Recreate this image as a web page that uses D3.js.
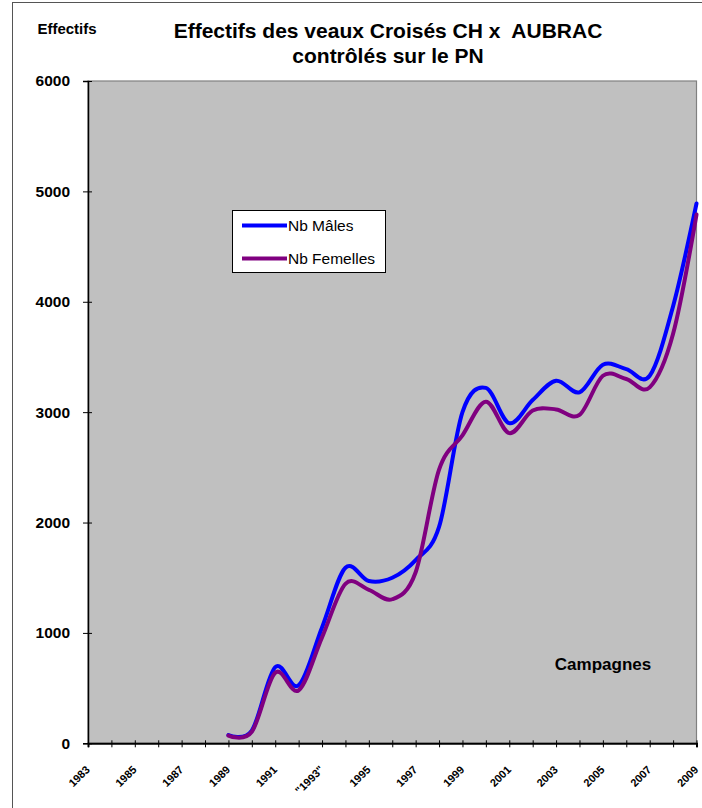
<!DOCTYPE html>
<html>
<head>
<meta charset="utf-8">
<script src="https://cdn.jsdelivr.net/npm/d3@7"></script>
<style>
  html, body { margin: 0; padding: 0; background: #fff; }
  svg { display: block; font-family: Arial, "Liberation Sans", sans-serif; }
</style>
</head>
<body>
<svg id="chart" width="702" height="808"></svg>
<script>
// ---- data ----
const years = [1983,1984,1985,1986,1987,1988,1989,1990,1991,1992,1993,1994,1995,1996,1997,1998,1999,2000,2001,2002,2003,2004,2005,2006,2007,2008,2009];
const tickLabels = ["1983","","1985","","1987","","1989","","1991","","\"1993\"","","1995","","1997","","1999","","2001","","2003","","2005","","2007","","2009"];
const males   = [null,null,null,null,null,null,75,115,690,525,1050,1590,1470,1500,1660,1960,3000,3220,2900,3110,3285,3180,3430,3390,3330,3960,4890];
const females = [null,null,null,null,null,null,70,105,640,480,960,1445,1390,1305,1550,2480,2790,3095,2810,3015,3025,2975,3330,3300,3225,3710,4790];
const yTicks = [0,1000,2000,3000,4000,5000,6000];
const seriesNames = ["Nb Mâles","Nb Femelles"];
const seriesColors = ["#0000ff","#800080"];

const svg = d3.select("#chart");
const L = 88, R = 696.5, T = 81, B = 743.3;

// outer frame
svg.append("rect").attr("x",12.5).attr("y",2.5).attr("width",720).attr("height",830)
  .attr("fill","#fff").attr("stroke","#555").attr("stroke-width",1);

const x = d3.scalePoint().domain(years).range([L, R]);
const y = d3.scaleLinear().domain([0,6000]).range([B, T]);

// plot area
svg.append("rect").attr("x",L).attr("y",T).attr("width",R-L).attr("height",B-T)
  .attr("fill","#c0c0c0").attr("stroke","#808080").attr("stroke-width",1.2);

// titles
svg.append("text").attr("x",67).attr("y",34).attr("text-anchor","middle")
  .attr("font-size",15).attr("font-weight","bold").text("Effectifs");
svg.append("text").attr("x",388).attr("y",38).attr("text-anchor","middle")
  .attr("font-size",21).attr("font-weight","bold").text("Effectifs des veaux Croisés CH x  AUBRAC")
  .attr("xml:space","preserve").style("white-space","pre");
svg.append("text").attr("x",388).attr("y",63).attr("text-anchor","middle")
  .attr("font-size",21).attr("font-weight","bold").text("contrôlés sur le PN");

// y axis
const yAxis = d3.axisLeft(y).tickValues(yTicks).tickSize(5).tickPadding(13).tickFormat(d3.format("d"));
const gy = svg.append("g").attr("transform",`translate(${L},0)`).call(yAxis);
gy.select(".domain").attr("stroke","#000").attr("stroke-width",1.5);
gy.selectAll(".tick line").attr("x1",-5).attr("x2",4).attr("stroke","#000");
gy.selectAll(".tick text").attr("font-size",15.5).attr("font-weight","bold")
  .attr("font-family","Arial, 'Liberation Sans', sans-serif").attr("fill","#000");

// x axis
const xAxis = d3.axisBottom(x).tickSize(4).tickFormat((d,i) => tickLabels[i]);
const gx = svg.append("g").attr("transform",`translate(0,${B})`).call(xAxis);
gx.select(".domain").attr("stroke","#000").attr("stroke-width",2);
gx.selectAll(".tick line").attr("y1",-3).attr("y2",4).attr("stroke","#000");
gx.selectAll(".tick text")
  .attr("font-size",11).attr("font-weight","bold").attr("fill","#000")
  .attr("font-family","Arial, 'Liberation Sans', sans-serif")
  .attr("text-anchor","end").attr("dy",null).attr("y",null)
  .attr("transform","translate(2,27) rotate(-45)");

// lines
const line = d3.line()
  .defined(d => d.v != null)
  .x(d => x(d.year)).y(d => y(d.v))
  .curve(d3.curveCardinal.tension(0));
[males, females].forEach((s, i) => {
  svg.append("path")
    .datum(years.map((yr, j) => ({year: yr, v: s[j]})))
    .attr("fill","none").attr("stroke",seriesColors[i]).attr("stroke-width",4)
    .attr("stroke-linejoin","round").attr("stroke-linecap","round")
    .attr("d", line);
});

// legend
const lg = svg.append("g");
lg.append("rect").attr("x",232.5).attr("y",210.5).attr("width",153).attr("height",62)
  .attr("fill","#fff").attr("stroke","#000").attr("stroke-width",1);
seriesNames.forEach((n, i) => {
  const ly = 225.5 + i*33;
  lg.append("line").attr("x1",242).attr("x2",287).attr("y1",ly).attr("y2",ly)
    .attr("stroke",seriesColors[i]).attr("stroke-width",4);
  lg.append("text").attr("x",288).attr("y",ly+5).attr("font-size",15.5)
    .attr("fill","#000").text(n);
});

// category axis title
svg.append("text").attr("x",603).attr("y",670).attr("text-anchor","middle")
  .attr("font-size",17).attr("font-weight","bold").text("Campagnes");
</script>
</body>
</html>
